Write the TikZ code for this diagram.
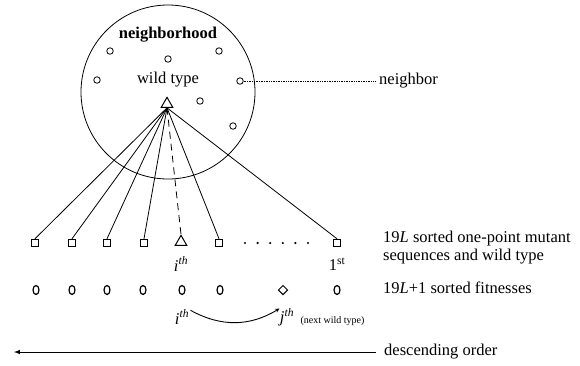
\documentclass[tikz,border=0pt]{standalone}
\usepackage{fontspec}
\setmainfont{Liberation Serif}
\usetikzlibrary{arrows,shapes,positioning,calc}

\begin{document}
\begin{tikzpicture}[x=1pt,y=-1pt,
    font=\fontsize{16.5}{18}\selectfont,
    mutant/.style={draw,line width=1pt,minimum size=7.5pt,inner sep=0pt},
    wild/.style={draw,line width=1pt,isosceles triangle,isosceles triangle apex angle=60,
                 shape border rotate=90,minimum height=10pt,inner sep=0pt},
    seq/.style={draw,line width=0.8pt,circle,minimum size=6.5pt,inner sep=0pt},
    fit/.style={draw,line width=1.2pt,ellipse,minimum width=6pt,minimum height=9pt,inner sep=0pt},
    note/.style={anchor=west,align=left,inner sep=1pt}]
  \useasboundingbox (0,0) rectangle (580,365);

  % Neighborhood
  \node[draw,line width=0.8pt,circle,minimum size=174pt,inner sep=0pt] (hood) at (168,92) {};
  \node[font=\fontsize{16.5}{18}\selectfont\bfseries] (hoodlbl) at (168,35) {neighborhood};
  \node (wtlbl) at (168,80) {wild type};
  \foreach \x/\y [count=\k] in {110/51,168/59,219/51,97/80,240/81,200/101,233/126} {
    \node[seq] (n\k) at (\x,\y) {};
  }
  \node[wild] (wt) at (167,104) {};

  % Neighbor label
  \node[note] (nbr) at (378,81) {neighbor};
  \draw[densely dotted,line width=0.7pt] (n5) -- ($(nbr.west)+(-3,0)$);

  % Sorted mutant sequences
  \foreach \x [count=\k] in {35,72,107,144} {
    \node[mutant] (s\k) at (\x,243) {};
  }
  \node[wild] (s5) at (181,242) {};
  \node[mutant] (s6) at (219,243) {};
  \node[mutant] (s7) at (337,243) {};
  \foreach \x in {0,...,5} {
    \fill (245+12.6*\x,243) circle (1.2pt);
  }

  % Connections from wild type
  \foreach \k in {1,2,3,4,6,7} {
    \draw[line width=0.8pt] (wt.south) -- (s\k.north);
  }
  \draw[line width=0.8pt,dash pattern=on 7pt off 5pt] (wt.south) -- (s5.north);

  % Ranks
  \node (ri) at (181,264) {\textit{i}\textsuperscript{\textit{th}}};
  \node (rone) at (337,264) {1\textsuperscript{st}};

  % Sorted fitnesses
  \foreach \x [count=\k] in {36,72,107,143,182,220} {
    \node[fit] (f\k) at (\x,290) {};
  }
  \node[draw,line width=1pt,diamond,minimum size=9.5pt,inner sep=0pt] (fj) at (283,290) {};
  \node[fit] (f8) at (337,290) {};

  % Next wild type
  \node (fi) at (182,317) {\textit{i}\textsuperscript{\textit{th}}};
  \node (fjl) at (287,317) {\textit{j}\textsuperscript{\textit{th}}};
  \node[anchor=west,font=\fontsize{10}{11}\selectfont] (nxt) at (297,321) {(next wild type)};
  \draw[-stealth,line width=0.9pt] ($(fi.north east)+(-2,4)$) to[bend right=30] ($(fjl.north west)+(3,4)$);

  % Descriptions
  \node[note,anchor=north west] (dseq) at (382,230)
    {19\textit{L} sorted one-point mutant\\sequences and wild type};
  \node[note] (dfit) at (382,288) {19\textit{L}+1 sorted fitnesses};

  % Descending order
  \node[note] (dord) at (383,352) {descending order};
  \coordinate (oend) at (14,352);
  \draw[-latex,line width=1pt] ($(dord.west)+(-7,0)$) -- (oend);
\end{tikzpicture}
\end{document}
